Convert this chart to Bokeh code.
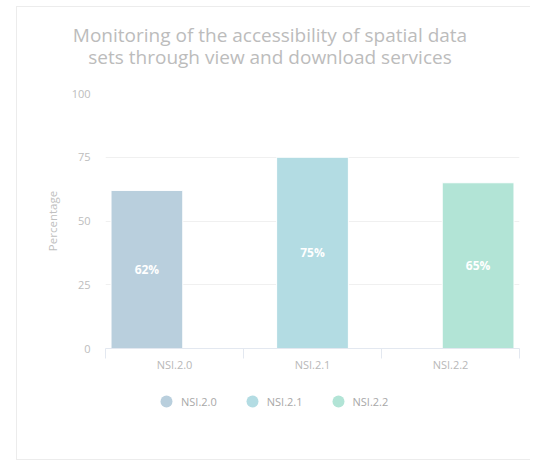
from bokeh.plotting import figure
from bokeh.layouts import column
from bokeh.models import Range1d, FixedTicker, Legend, LegendItem, ColumnDataSource, Div
from bokeh.core.properties import value
from bokeh.embed import file_html
from bokeh.resources import INLINE

# ---- data ----
categories = ["NSI.2.0", "NSI.2.1", "NSI.2.2"]
values = [62, 75, 65]
colors = ["#b9cfdd", "#b3dce3", "#b2e4d6"]
title_lines = ["Monitoring of the accessibility of spatial data",
               "sets through view and download services"]
y_ticks = [0, 25, 50, 75, 100]

FONT = "Open Sans"
EDGE = "#ececec"
W = 530

# ---- title ----
title = Div(text="<br>".join(title_lines), width=W, height=85, margin=(0, 0, 0, 0),
            styles={"text-align": "center", "font-family": FONT, "font-size": "19px",
                    "line-height": "22px", "color": "#bcbcbc", "padding-top": "24px",
                    "padding-left": "10px", "box-sizing": "border-box"})

# ---- chart ----
p = figure(width=W, height=301, output_backend="svg", toolbar_location=None,
           x_range=Range1d(0, len(categories)), y_range=Range1d(0, 100),
           min_border_left=105, min_border_right=11, min_border_top=8, min_border_bottom=38)
p.outline_line_color = None
p.background_fill_color = "white"
p.border_fill_color = None

n = len(categories)
group_w = 0.2
src = ColumnDataSource(dict(
    x=[i + 0.5 + (i - (n - 1) / 2) * group_w for i in range(n)],
    top=values,
    mid=[v / 2 for v in values],
    label=[f"{v}%" for v in values],
    color=colors,
))
p.vbar(x="x", top="top", bottom=0, width=0.52, fill_color="color", line_color="white",
       line_width=1, source=src)
p.text(x="x", y="mid", text="label", text_align="center", text_baseline="middle",
       text_color="white", text_font=value(FONT), text_font_size="12px",
       text_font_style="bold", source=src)

p.xaxis.ticker = FixedTicker(ticks=[i + 0.5 for i in range(n)], minor_ticks=list(range(n + 1)))
p.xaxis.major_label_overrides = {i + 0.5: c for i, c in enumerate(categories)}
p.xaxis.major_tick_out = 0
p.xaxis.major_tick_in = 0
p.xaxis.minor_tick_out = 10
p.xaxis.minor_tick_in = 0
p.xaxis.minor_tick_line_color = "#e3e8f0"
p.xaxis.axis_line_color = "#e3e8f0"
p.xaxis.major_label_standoff = -2
p.xaxis.major_label_text_font = FONT
p.xaxis.major_label_text_font_size = "11px"
p.xaxis.major_label_text_color = "#b8b8b8"

p.yaxis.ticker = FixedTicker(ticks=y_ticks)
p.yaxis.axis_line_color = None
p.yaxis.major_tick_line_color = None
p.yaxis.minor_tick_line_color = None
p.yaxis.major_label_standoff = 9
p.yaxis.major_label_text_font = FONT
p.yaxis.major_label_text_font_size = "11px"
p.yaxis.major_label_text_color = "#bdbdbd"
p.yaxis.axis_label = "Percentage"
p.yaxis.axis_label_standoff = 9
p.yaxis.axis_label_text_font = FONT
p.yaxis.axis_label_text_font_size = "11.5px"
p.yaxis.axis_label_text_font_style = "normal"
p.yaxis.axis_label_text_color = "#c0c0c0"

p.xgrid.grid_line_color = None
p.ygrid.grid_line_color = "#f0f0f0"

# ---- legend strip ----
pl = figure(width=W, height=74, output_backend="svg", toolbar_location=None,
            x_range=Range1d(0, len(categories)), y_range=Range1d(0, 100),
            min_border=0, min_border_left=105, min_border_right=11,
            min_border_top=0, min_border_bottom=0)
pl.axis.visible = False
pl.grid.visible = False
pl.outline_line_color = None
pl.background_fill_color = None
pl.border_fill_color = None
items = []
for i, (c, col) in enumerate(zip(categories, colors)):
    r = pl.scatter(x=[src.data["x"][i]], y=[values[i]], size=0, marker="circle",
                   fill_color=col, line_color=None)
    items.append(LegendItem(label=c, renderers=[r]))
legend = Legend(items=items, orientation="horizontal", location=(46, 44),
                glyph_width=30, glyph_height=30, label_standoff=0, spacing=20,
                padding=0, margin=0, border_line_color=None, background_fill_alpha=0,
                label_text_font=FONT, label_text_font_size="11px", label_text_color="#a8a8a8")
pl.add_layout(legend, "center")

card = (f"linear-gradient({EDGE},{EDGE}) 16px 6px / 100% 1px no-repeat, "
        f"linear-gradient({EDGE},{EDGE}) 16px 6px / 1px 453px no-repeat, "
        f"linear-gradient({EDGE},{EDGE}) 16px 459px / 100% 1px no-repeat")
layout = column(title, p, pl, spacing=0, styles={"background": card})
open("out.html", "w").write(file_html(layout, INLINE))
